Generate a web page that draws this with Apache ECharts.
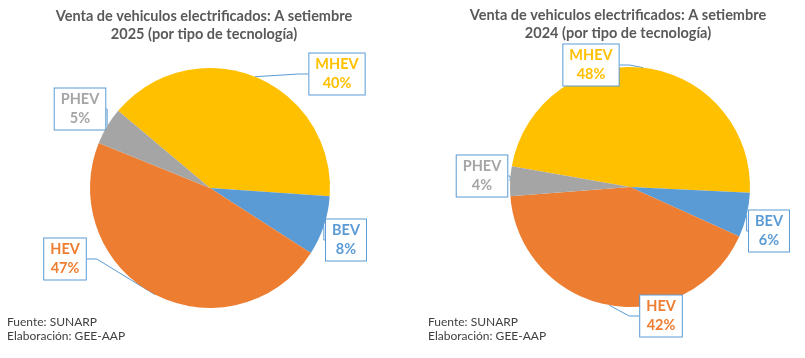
<!DOCTYPE html>
<html>
<head>
<meta charset="utf-8">
<script src="https://cdn.jsdelivr.net/npm/echarts@6/dist/echarts.min.js"></script>
<style>html,body{margin:0;padding:0;background:#fff}#c{width:805px;height:358px}</style>
</head>
<body>
<div id="c"></div>
<script>
var categories = ['MHEV', 'BEV', 'HEV', 'PHEV'];
var values2025 = [40, 8, 47, 5];
var values2024 = [48, 6, 42, 4];
var colors = ['#FFC000', '#5B9BD5', '#ED7D31', '#A5A5A5'];
var title2025 = 'Venta de vehiculos electrificados: A setiembre\n2025 (por tipo de tecnología)';
var title2024 = 'Venta de vehiculos electrificados: A setiembre\n2024 (por tipo de tecnología)';
var sourceText = 'Fuente: SUNARP\nElaboración: GEE-AAP';

var FONT = 'Lato, "Open Sans", sans-serif';
// label box centers (layout)
var labelPos2025 = [[337, 74], [346, 240], [65, 259], [80, 109]];
var labelPos2024 = [[591, 65], [769, 231], [661, 316], [482, 176]];

function buildData(vals) {
  return categories.map(function (c, i) {
    return {
      name: c, value: vals[i],
      itemStyle: { color: colors[i] },
      label: { color: colors[i] }
    };
  });
}

function pieSeries(vals, center, startAngle, pos) {
  return {
    type: 'pie',
    center: center,
    radius: 120,
    startAngle: startAngle,
    clockwise: true,
    avoidLabelOverlap: false,
    data: buildData(vals),
    itemStyle: { borderWidth: 0 },
    label: {
      show: true,
      position: 'outside',
      formatter: function (p) { return p.name + '\n' + p.value + '%'; },
      fontFamily: FONT,
      fontWeight: 'bold',
      fontSize: 14.5,
      lineHeight: 19,
      align: 'center',
      backgroundColor: '#fff',
      borderColor: '#5B9BD5',
      borderWidth: 1,
      padding: [2, 6, 1, 6]
    },
    labelLine: {
      show: true,
      length: 10,
      length2: 10,
      lineStyle: { color: '#5B9BD5', width: 1 }
    },
    labelLayout: function (p) {
      var xy = pos[p.dataIndex];
      return { x: xy[0], y: xy[1], align: 'center', verticalAlign: 'middle' };
    },
    emphasis: { disabled: true },
    animation: false
  };
}

var chart = echarts.init(document.getElementById('c'));
chart.setOption({
  backgroundColor: '#fff',
  animation: false,
  title: [
    { text: title2025, left: 204, top: 7, padding: 0, textAlign: 'center',
      textStyle: { fontFamily: FONT, fontSize: 14.5, fontWeight: 'bold', color: '#595959', lineHeight: 18 } },
    { text: title2024, left: 618, top: 6, padding: 0, textAlign: 'center',
      textStyle: { fontFamily: FONT, fontSize: 14.5, fontWeight: 'bold', color: '#595959', lineHeight: 18 } },
    { text: sourceText, left: 7, top: 315, padding: 0,
      textStyle: { fontFamily: FONT, fontSize: 12, fontWeight: 'normal', color: '#404040', lineHeight: 14 } },
    { text: sourceText, left: 428, top: 315, padding: 0,
      textStyle: { fontFamily: FONT, fontSize: 12, fontWeight: 'normal', color: '#404040', lineHeight: 14 } }
  ],
  series: [
    pieSeries(values2025, [210, 188], 140, labelPos2025),
    pieSeries(values2024, [630, 187], 170, labelPos2024)
  ]
});
</script>
</body>
</html>
